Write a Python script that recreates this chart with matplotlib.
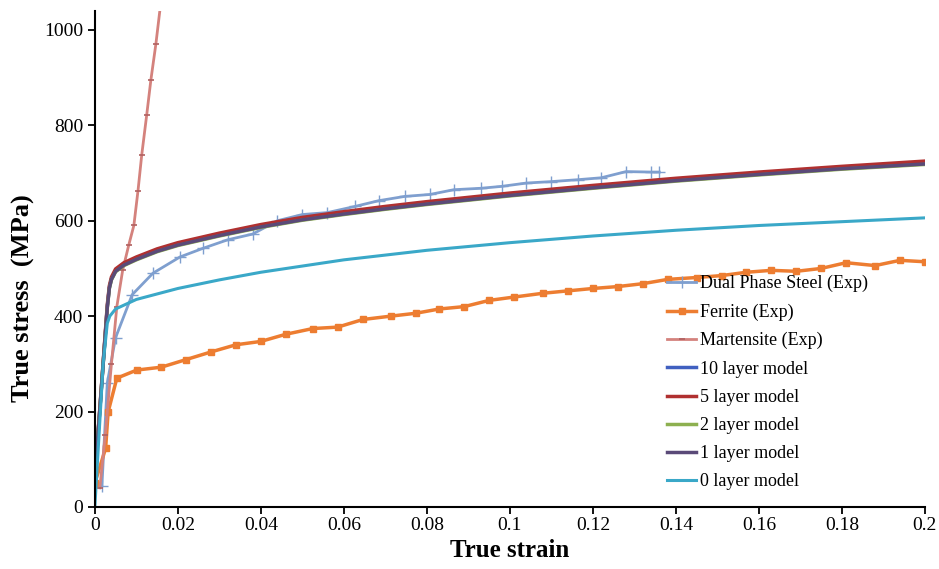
import matplotlib
matplotlib.use("Agg")
import matplotlib.pyplot as plt

plt.rcParams['font.family'] = ['Liberation Serif', 'DejaVu Serif']

# Dual phase steel (experiment)
dp_strain = [0.0017, 0.003, 0.005, 0.009, 0.014, 0.0205, 0.026, 0.032, 0.038, 0.044, 0.050,
             0.056, 0.0627, 0.0684, 0.0747, 0.0807, 0.0865, 0.093, 0.098, 0.104, 0.110,
             0.1164, 0.122, 0.128, 0.134, 0.136]
dp_stress = [44, 260, 355, 445, 490, 524, 542, 560, 572, 600, 613,
             617, 630, 642, 651, 655, 665, 668, 672, 679, 682,
             686, 690, 703, 702, 702]

# Ferrite (experiment)
fe_strain = [0.0, 0.0026, 0.0032, 0.0053, 0.0101, 0.016, 0.022, 0.028, 0.034, 0.040, 0.046,
             0.0525, 0.0585, 0.0646, 0.0713, 0.0773, 0.083, 0.089, 0.095, 0.101, 0.108,
             0.114, 0.120, 0.126, 0.132, 0.138, 0.145, 0.151, 0.157, 0.163, 0.169,
             0.175, 0.181, 0.188, 0.194, 0.2]
fe_stress = [50, 123, 199, 270, 287, 293, 309, 325, 340, 347, 362,
             374, 377, 393, 400, 406, 415, 420, 433, 440, 448,
             453, 458, 462, 468, 477, 481, 485, 492, 496, 494,
             500, 512, 506, 517, 514]

# Martensite (experiment)
ma_strain = [0.0012, 0.0025, 0.004, 0.0053, 0.0067, 0.0082, 0.0094, 0.0104, 0.0113,
             0.0125, 0.0135, 0.0147, 0.0160]
ma_stress = [40, 150, 300, 420, 496, 550, 590, 663, 738, 822, 895, 970, 1065]

# Layer models
model_strain = [0, 0.001, 0.002, 0.003, 0.0035, 0.004, 0.005, 0.007, 0.01, 0.015, 0.02,
                0.03, 0.04, 0.05, 0.06, 0.07, 0.08, 0.09, 0.1, 0.12, 0.14, 0.16, 0.18, 0.2]
m10 = [70, 180, 300, 420, 460, 478, 495, 508, 520, 537, 550,
       570, 588, 603, 615, 626, 636, 645, 654, 670, 685, 698, 710, 721]
m5 = [70, 182, 303, 424, 464, 482, 499, 512, 524, 541, 554,
      574, 592, 607, 619, 630, 640, 649, 658, 674, 689, 702, 714, 725]
m2 = [70, 180, 300, 418, 458, 476, 493, 506, 518, 535, 548,
      568, 586, 601, 613, 624, 634, 643, 652, 668, 683, 696, 708, 718]
m1 = [70, 179, 299, 418, 459, 477, 494, 507, 519, 536, 549,
      569, 587, 602, 614, 625, 635, 644, 653, 669, 684, 697, 709, 719]

m0_strain = [0, 0.001, 0.002, 0.003, 0.0036, 0.005, 0.01, 0.02, 0.03, 0.04, 0.05, 0.06,
             0.08, 0.1, 0.12, 0.14, 0.16, 0.18, 0.2]
m0 = [0, 150, 300, 385, 400, 415, 435, 458, 476, 492, 505, 518,
      538, 554, 568, 580, 590, 598, 606]

fig = plt.figure(figsize=(9.39, 5.69), dpi=100)
ax = fig.add_axes([0.101, 0.109, 0.884, 0.872])

ax.plot(dp_strain, dp_stress, color='#7f9fcf', lw=2, marker='+', ms=9, mew=1,
        label='Dual Phase Steel (Exp)')
ax.plot(fe_strain, fe_stress, color='#ed7d31', lw=2.5, marker='s', ms=5,
        label='Ferrite (Exp)')
ax.plot(ma_strain, ma_stress, color='#d4827d', lw=2, marker='_', ms=4, mew=1.2,
        mec='#b06060', label='Martensite (Exp)')
ax.plot(model_strain, m10, color='#4060c0', lw=2.5, label='10 layer model')
ax.plot(model_strain, m5, color='#b03030', lw=2.5, label='5 layer model')
ax.plot(model_strain, m2, color='#8db050', lw=2.5, label='2 layer model')
ax.plot(model_strain, m1, color='#5a4a78', lw=2.5, label='1 layer model')
ax.plot(m0_strain, m0, color='#3aa8c8', lw=2.2, label='0 layer model')

ax.set_xlim(0, 0.2)
ax.set_ylim(0, 1040)
ax.set_xticks([i * 0.02 for i in range(11)])
ax.set_xticklabels(['0', '0.02', '0.04', '0.06', '0.08', '0.1', '0.12', '0.14',
                    '0.16', '0.18', '0.2'])
ax.set_yticks(range(0, 1001, 200))
ax.spines['top'].set_visible(False)
ax.spines['right'].set_visible(False)
ax.spines['left'].set_linewidth(1.5)
ax.spines['bottom'].set_linewidth(1.5)
ax.tick_params(labelsize=14, width=1.3, length=5, direction='out')
ax.tick_params(axis='x', pad=2)

ax.set_xlabel('True strain', fontsize=18, fontweight='bold')
ax.set_ylabel('True stress  (MPa)', fontsize=19, fontweight='bold')
ax.yaxis.set_label_coords(-0.072, 0.42)

ax.legend(loc='upper left', bbox_to_anchor=(0.67, 0.5), frameon=False,
          fontsize=13, handlelength=1.6, handletextpad=0.2, labelspacing=0.62)

fig.savefig('out.png', dpi=100)
